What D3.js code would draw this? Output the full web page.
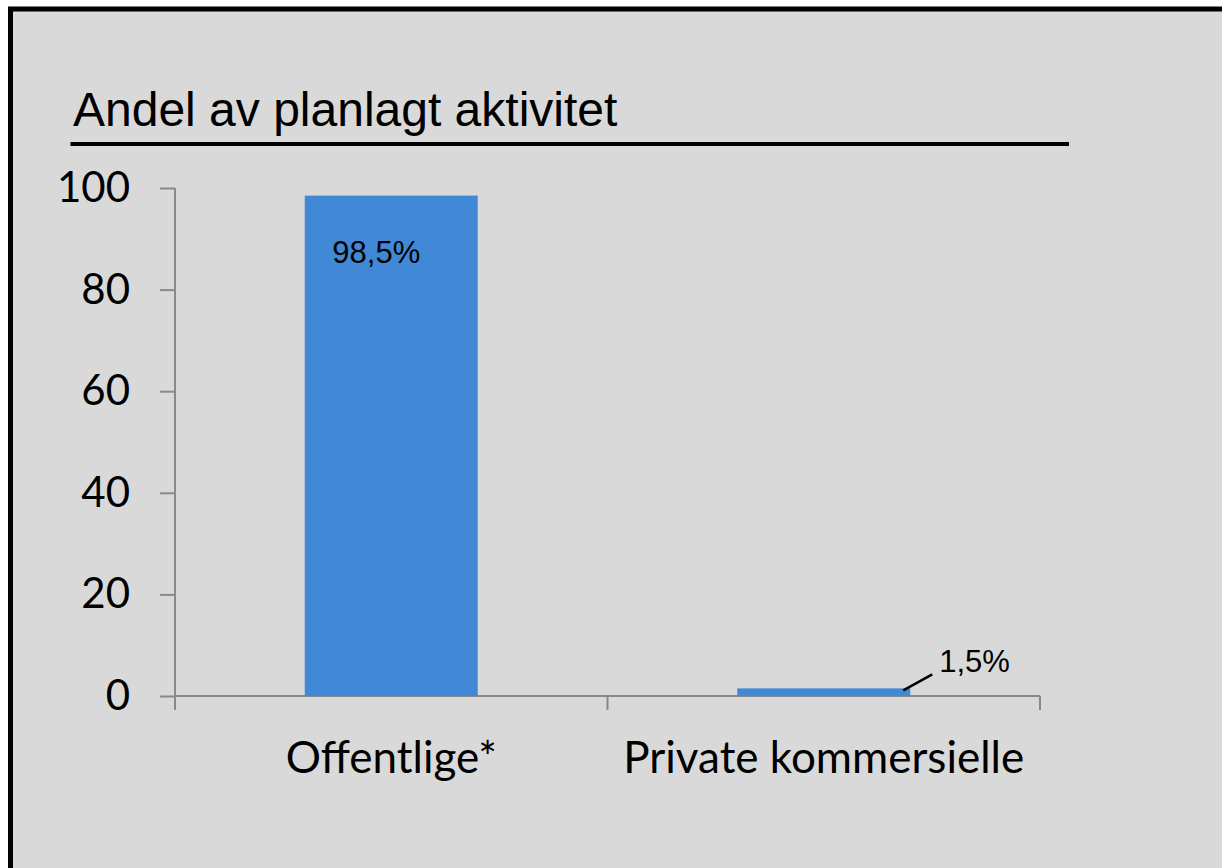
<!DOCTYPE html>
<html>
<head>
<meta charset="utf-8">
<script src="https://cdn.jsdelivr.net/npm/d3@7"></script>
<style>
    body { margin: 0; background: #ffffff; }
    svg { display: block; }
</style>
</head>
<body>
<svg id="chart" width="1222" height="868"></svg>
<script>
// data
const categories = ["Offentlige*", "Private kommersielle"];
const values = [98.5, 1.5];
const valueLabels = ["98,5%", "1,5%"];
const yTicks = [0, 20, 40, 60, 80, 100];
const title = "Andel av planlagt aktivitet";

class ShareBar {
    constructor (element, configs) {
        this.svg = d3.select(element);
        this.defaultConfig = {
            plot: { left: 175, right: 1040, top: 188, bottom: 696 },
            barColor: "#4189d6",
            axisColor: "#898989",
            tickFont: "Lato, 'Open Sans', sans-serif",
            labelFont: "'Liberation Sans', Arial, sans-serif"
        };
        this.config = Object.assign({}, this.defaultConfig, configs);
        this.initAxis();
        this.drawFrame();
        this.drawTitle();
        this.drawAxis();
        this.drawBars();
        this.drawLabels();
    }

    initAxis () {
        const p = this.config.plot;
        this.xAxis = d3.scaleBand().domain(categories).range([p.left, p.right]).padding(0);
        this.yAxis = d3.scaleLinear().domain([0, 100]).range([p.bottom, p.top]);
        this.barWidth = this.xAxis.bandwidth() * 0.4;
    }

    drawFrame () {
        // chart area, border runs off the right and bottom edge
        this.svg.append("rect")
            .attr("x", 10.5)
            .attr("y", 9)
            .attr("width", 1400)
            .attr("height", 1000)
            .attr("fill", "#d9d9d9")
            .attr("stroke", "#000")
            .attr("stroke-width", 5);
    }

    drawTitle () {
        this.svg.append("text")
            .attr("x", 73)
            .attr("y", 126)
            .attr("font-family", this.config.labelFont)
            .attr("font-size", 48)
            .attr("fill", "#000")
            .text(title);

        this.svg.append("line")
            .attr("x1", 70.5)
            .attr("x2", 1069)
            .attr("y1", 144)
            .attr("y2", 144)
            .attr("stroke", "#000")
            .attr("stroke-width", 4);
    }

    drawAxis () {
        const p = this.config.plot;
        const c = this.config.axisColor;

        const y = this.svg.append("g")
            .attr("class", "axis yAxis")
            .attr("transform", "translate(" + p.left + ",0)")
            .call(d3.axisLeft(this.yAxis).tickValues(yTicks).tickSize(15).tickPadding(30));
        y.select(".domain").remove();
        y.selectAll(".tick line").attr("stroke", c).attr("stroke-width", 2);
        y.selectAll(".tick text")
            .attr("font-family", this.config.tickFont)
            .attr("font-size", 42)
            .attr("fill", "#000");

        this.svg.append("line")
            .attr("x1", p.left).attr("x2", p.left)
            .attr("y1", p.top).attr("y2", p.bottom + 14)
            .attr("stroke", c).attr("stroke-width", 2);

        // x axis with category separators
        const x = this.svg.append("g")
            .attr("class", "axis xAxis")
            .attr("transform", "translate(0," + p.bottom + ")");
        x.append("line")
            .attr("x1", p.left).attr("x2", p.right)
            .attr("stroke", c).attr("stroke-width", 2);
        const edges = categories.map(d => this.xAxis(d)).concat([p.right]);
        x.selectAll(".sep")
            .data(edges)
            .enter()
            .append("line")
            .attr("class", "sep")
            .attr("x1", d => d).attr("x2", d => d)
            .attr("y1", 0).attr("y2", 14)
            .attr("stroke", c).attr("stroke-width", 2);
        x.selectAll(".cat")
            .data(categories)
            .enter()
            .append("text")
            .attr("class", "cat")
            .attr("x", d => this.xAxis(d) + this.xAxis.bandwidth() / 2)
            .attr("y", 77)
            .attr("text-anchor", "middle")
            .attr("font-family", this.config.tickFont)
            .attr("font-size", 44)
            .attr("fill", "#000")
            .text(d => d);
    }

    drawBars () {
        const p = this.config.plot;
        this.svg.append("g")
            .selectAll("rect")
            .data(values)
            .enter()
            .append("rect")
            .attr("x", (d, i) => this.xAxis(categories[i]) + this.xAxis.bandwidth() / 2 - this.barWidth / 2)
            .attr("y", d => this.yAxis(d))
            .attr("width", this.barWidth)
            .attr("height", d => p.bottom - this.yAxis(d))
            .attr("fill", this.config.barColor);
    }

    drawLabels () {
        const f = this.config.labelFont;
        // inside label for the tall bar
        const cx0 = this.xAxis(categories[0]) + this.xAxis.bandwidth() / 2;
        this.svg.append("text")
            .attr("x", cx0 - 15)
            .attr("y", this.yAxis(values[0]) + 67)
            .attr("text-anchor", "middle")
            .attr("font-family", f)
            .attr("font-size", 31)
            .attr("fill", "#000")
            .text(valueLabels[0]);

        // outside label with leader line for the small bar
        const right1 = this.xAxis(categories[1]) + this.xAxis.bandwidth() / 2 + this.barWidth / 2;
        const top1 = this.yAxis(values[1]);
        this.svg.append("line")
            .attr("x1", right1 - 7).attr("y1", top1 + 2)
            .attr("x2", right1 + 22).attr("y2", top1 - 14)
            .attr("stroke", "#000").attr("stroke-width", 2.5);
        this.svg.append("text")
            .attr("x", right1 + 29)
            .attr("y", top1 - 16)
            .attr("font-family", f)
            .attr("font-size", 31)
            .attr("fill", "#000")
            .text(valueLabels[1]);
    }
}

new ShareBar("#chart");
</script>
</body>
</html>
